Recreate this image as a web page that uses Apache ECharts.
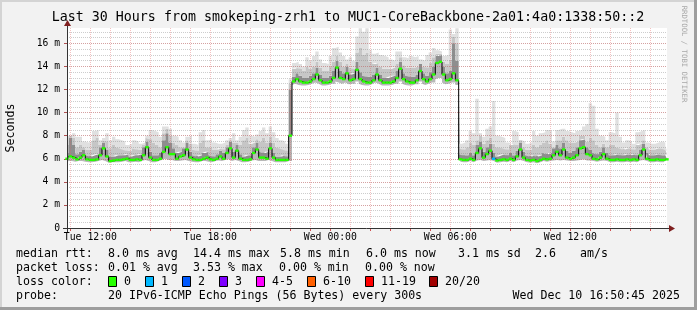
<!DOCTYPE html>
<html><head><meta charset="utf-8">
<script src="https://cdn.jsdelivr.net/npm/echarts@6/dist/echarts.min.js"></script>
<style>html,body{margin:0;padding:0;background:#f2f2f2}#c{width:697px;height:310px}</style>
</head><body><div id="c"></div>
<script>
// ---- data (ms), one value per 10-minute step from Tue 10:50 to Wed 16:50 ----
const med = [
6.0,6.2,6.1,5.95,6.1,6.3,5.95,5.9,5.9,5.95,
6.3,6.9,6.2,5.8,5.85,5.9,5.9,5.95,6.0,5.9,
5.9,5.95,5.9,6.3,7.0,6.1,5.9,5.9,6.0,6.6,
7.0,6.4,6.4,6.0,6.2,6.3,6.8,6.1,5.95,5.9,
5.9,6.0,6.1,5.95,5.9,6.0,6.2,6.0,6.5,6.9,
6.1,6.7,6.0,5.9,5.9,5.95,6.5,6.8,6.1,6.1,
6.0,6.9,6.1,5.9,5.9,5.9,5.9,8.0,12.7,12.9,
12.7,12.6,12.6,12.7,12.9,13.3,12.8,12.6,12.6,12.7,
13.0,13.9,13.0,12.9,13.4,12.8,12.9,13.7,12.9,12.7,
12.6,12.6,12.8,13.3,12.8,12.6,12.6,12.6,12.7,13.0,
13.8,12.9,12.7,12.6,12.6,12.8,13.6,12.9,12.7,12.9,
13.3,14.3,14.4,13.3,12.8,12.9,13.4,12.8,5.95,5.9,
5.9,6.0,5.9,6.5,6.9,6.1,6.4,6.7,6.0,5.85,
5.9,5.95,5.9,6.0,5.9,6.2,6.8,6.1,5.9,5.85,
5.9,5.8,5.9,6.0,5.95,6.0,6.3,6.6,6.3,6.8,
6.1,6.0,6.1,6.3,6.9,7.0,6.4,6.3,6.0,5.95,
6.1,6.4,6.0,5.9,5.9,5.95,5.9,5.9,5.95,5.9,
5.95,5.9,6.3,6.8,6.0,5.9,5.9,5.95,5.9,5.9,5.95];
const lo = [
5.75,5.8,5.8,5.75,5.8,5.8,5.75,5.7,5.7,5.75,
5.8,5.9,5.8,5.65,5.7,5.7,5.7,5.75,5.8,5.7,
5.7,5.75,5.7,5.8,5.9,5.8,5.7,5.7,5.8,5.9,
6.0,5.9,5.9,5.8,5.8,5.85,5.9,5.8,5.75,5.7,
5.7,5.8,5.8,5.75,5.7,5.8,5.85,5.8,5.9,5.95,
5.8,5.9,5.8,5.7,5.7,5.75,5.85,5.9,5.8,5.8,
5.8,5.9,5.8,5.7,5.7,5.7,5.7,5.8,12.4,12.5,
12.4,12.35,12.35,12.4,12.5,12.6,12.5,12.35,12.35,12.4,
12.5,12.7,12.6,12.5,12.6,12.45,12.5,12.7,12.5,12.4,
12.35,12.35,12.45,12.6,12.5,12.35,12.35,12.35,12.4,12.5,
12.7,12.5,12.4,12.35,12.35,12.45,12.7,12.5,12.4,12.5,
12.6,12.9,13.0,12.6,12.45,12.5,12.6,12.4,5.75,5.7,
5.7,5.8,5.7,5.85,5.9,5.8,5.85,5.9,5.8,5.65,
5.7,5.75,5.7,5.8,5.7,5.85,5.9,5.8,5.7,5.65,
5.7,5.6,5.7,5.8,5.75,5.8,5.85,5.9,5.85,5.9,
5.85,5.8,5.8,5.85,5.9,5.95,5.85,5.85,5.8,5.75,
5.8,5.85,5.8,5.7,5.7,5.75,5.7,5.7,5.75,5.7,
5.75,5.7,5.85,5.9,5.8,5.7,5.7,5.75,5.7,5.7,5.75];
const dark = [
6.5,7.8,7.2,6.4,6.6,6.8,6.3,6.2,6.3,6.4,
7.0,7.4,6.8,6.2,6.2,6.3,6.3,6.3,6.4,6.2,
6.3,6.3,6.4,7.0,7.5,6.6,6.3,6.3,6.5,7.6,
8.2,7.4,6.9,6.5,6.6,6.9,7.4,6.6,6.3,6.2,
6.3,6.5,6.6,6.3,6.2,6.4,6.7,6.5,7.0,7.5,
6.6,7.2,6.4,6.2,6.3,6.3,7.0,7.4,6.6,6.5,
6.6,7.4,6.5,6.2,6.2,6.3,6.2,12.0,13.1,13.4,
13.2,13.0,13.0,13.2,13.4,13.9,13.3,13.0,13.0,13.2,
13.6,14.5,13.6,13.4,14.0,13.3,13.4,14.4,13.5,13.2,
13.1,13.1,13.3,13.9,13.3,13.0,13.0,13.1,13.2,13.6,
14.4,13.4,13.2,13.1,13.1,13.3,14.2,13.4,13.2,13.5,
14.0,14.9,15.0,14.0,13.4,13.6,16.0,14.5,6.4,6.3,
6.3,6.5,6.3,7.2,7.5,6.6,7.0,7.3,6.5,6.2,
6.3,6.4,6.3,6.5,6.3,6.7,7.4,6.6,6.3,6.2,
6.3,6.2,6.3,6.5,6.4,6.5,6.9,7.2,6.9,7.4,
6.7,6.5,6.7,7.0,7.6,7.7,7.0,6.8,6.5,6.4,
6.6,7.0,6.5,6.3,6.3,6.4,6.3,6.3,6.4,6.3,
6.4,6.3,6.8,7.3,6.5,6.3,6.3,6.4,6.3,6.3,6.4];
const grey = [
7.2,8.0,7.8,7.0,7.2,7.0,6.8,6.8,7.6,7.8,
7.2,7.6,7.5,6.9,7.2,7.0,6.9,6.8,6.7,6.7,
6.9,6.8,6.8,7.2,7.8,7.7,7.4,7.2,7.0,8.2,
8.6,8.0,7.4,7.2,7.0,7.0,7.6,7.3,6.8,6.7,
7.4,7.6,7.0,7.0,6.8,6.8,6.9,6.8,7.2,7.6,
7.4,7.4,7.2,7.6,7.8,7.3,7.4,7.7,7.5,7.8,
7.4,7.9,7.4,7.0,6.9,6.8,6.7,12.5,13.8,13.9,
13.8,13.6,14.0,13.8,14.0,14.4,13.9,13.6,13.6,14.0,
14.4,14.9,14.4,14.0,14.2,13.9,13.8,15.2,15.6,15.0,
15.2,14.4,14.2,14.3,14.0,13.8,13.8,13.8,13.9,14.2,
14.8,14.1,13.9,13.9,13.9,14.0,14.2,14.0,13.9,14.3,
14.8,15.1,15.1,14.4,14.2,14.6,16.6,16.0,6.9,6.8,
7.0,7.4,7.2,7.6,8.0,7.3,7.6,7.8,7.3,7.0,
7.0,6.9,6.8,7.2,7.3,7.2,7.6,7.0,6.8,6.8,
7.2,7.0,7.2,7.4,7.6,7.3,7.0,7.6,7.6,7.9,
7.6,7.4,7.4,7.5,8.0,8.0,7.5,7.8,7.6,7.2,
7.0,7.3,7.0,7.2,7.2,7.0,6.9,6.8,6.9,6.9,
6.8,7.2,7.3,7.6,7.0,6.8,6.8,6.9,6.9,6.8,6.7];
const hi = [
7.8,8.0,8.2,7.9,7.9,7.5,7.4,7.5,8.4,8.5,
7.6,7.8,8.2,7.6,7.9,7.7,7.6,7.5,7.2,7.3,
7.6,7.5,7.3,7.4,8.0,8.5,8.4,8.3,7.9,8.8,
8.8,8.6,8.0,7.9,7.6,7.4,7.9,8.0,7.3,7.2,
8.3,8.5,7.6,7.7,7.4,7.3,7.3,7.4,7.6,7.8,
8.2,7.6,7.9,8.5,8.7,8.0,7.9,8.1,8.4,8.7,
8.2,8.8,8.3,7.8,7.6,7.5,7.3,12.9,14.3,14.4,
14.2,14.0,14.8,14.5,14.9,15.3,14.6,14.3,14.2,14.9,
15.6,15.7,15.2,14.9,14.6,14.8,14.5,16.6,17.3,17.0,
17.3,15.4,15.1,15.2,15.0,14.9,14.8,14.6,14.5,15.3,
15.3,14.8,14.7,14.9,14.8,14.9,14.6,14.5,15.0,15.2,
15.6,15.4,15.3,14.9,15.0,17.2,16.8,17.3,7.3,7.4,
7.6,8.4,8.2,11.2,8.2,7.9,8.6,8.8,11.0,8.0,
7.9,7.8,7.4,7.3,8.4,8.3,7.6,7.5,7.3,7.4,
8.4,8.0,8.2,8.3,8.5,8.4,7.5,8.5,8.6,8.6,
8.4,8.3,8.2,8.4,8.5,8.8,9.0,10.8,10.6,8.6,
8.0,7.9,7.6,8.3,8.2,10.0,7.9,7.4,7.6,7.5,
7.3,8.3,8.4,8.5,7.4,7.3,7.3,7.4,7.5,7.4,7.1];
// steps with packet loss: [step index, lost pings]
const lossSteps = [[128, 1]];
const lossBins = ['0','1','2','3','4-5','6-10','11-19','20/20'];
const lossColors = ['#26ff00','#00b8ff','#0059ff','#7e00ff','#ff00ff','#ff6000','#ff0000','#a10000'];
const yTicks = [0,2,4,6,8,10,12,14,16];

// ---- categories (10-minute slots) ----
const categories = [];
for (let i = 0; i < med.length; i++) {
  const m = 10 * 60 + 50 + 10 * i;
  const day = m >= 1440 ? 'Wed' : 'Tue';
  const hh = Math.floor((m % 1440) / 60), mm = m % 60;
  categories.push(day + ' ' + String(hh).padStart(2, '0') + ':' + String(mm).padStart(2, '0'));
}
const isHour = (i, v) => v.endsWith(':00');
const isLabel = (i, v) => /(00|06|12|18):00$/.test(v);

function lossIndex(n) {
  if (n <= 0) return 0; if (n === 1) return 1; if (n === 2) return 2; if (n === 3) return 3;
  if (n <= 5) return 4; if (n <= 10) return 5; if (n < 20) return 6; return 7;
}
const lossAt = {};
lossSteps.forEach(([i, n]) => lossAt[i] = n);

const diff = (a, b) => a.map((v, i) => Math.max(0, v - b[i]));
const FONT = '"DejaVu Sans Mono", monospace';
const GL = 67, GT = 28, GW = 600, GH = 200;
const YMAX = 17.33;

function band(data, color) {
  return { type: 'line', stack: 'smoke', data, step: 'middle', symbol: 'none', silent: true,
    lineStyle: { opacity: 0, width: 0 }, areaStyle: color ? { color, opacity: 1 } : undefined,
    z: 1, animation: false };
}

const series = [
  band(lo, null),
  band(diff(med, lo), '#b8b8b8'),
  band(diff(dark, med), '#8e8e8e'),
  band(diff(grey, dark), '#c6c6c6'),
  band(diff(hi, grey), '#e0e0e0'),
  { type: 'line', data: med, step: 'middle', symbol: 'none', silent: true,
    lineStyle: { color: '#000', width: 1 }, z: 4, animation: false },
  { type: 'custom', silent: true, z: 5, animation: false,
    data: med.map((v, i) => [i, v, lossAt[i] || 0]),
    encode: { x: 0, y: 1 },
    renderItem: (params, api) => {
      const p = api.coord([api.value(0), api.value(1)]);
      const w = api.size([1, 0])[0];
      return { type: 'rect', shape: { x: p[0] - w / 2, y: p[1] - 1.2, width: w, height: 2.4 },
        style: { fill: lossColors[lossIndex(api.value(2))] } };
    } }
];

const txt = (x, y, s, extra) => ({ type: 'text', x, y, z: 20, silent: true,
  style: Object.assign({ text: s, font: '11.6px ' + FONT, fill: '#000',
    align: 'left', verticalAlign: 'middle', textAlign: 'left', textVerticalAlign: 'middle' }, extra || {}) });

const graphic = [
  // frame
  { type: 'rect', z: 20, silent: true, shape: { x: 0, y: 0, width: 697, height: 2 }, style: { fill: '#d4d4d4' } },
  { type: 'rect', z: 20, silent: true, shape: { x: 0, y: 0, width: 2, height: 310 }, style: { fill: '#d4d4d4' } },
  { type: 'rect', z: 20, silent: true, shape: { x: 694, y: 0, width: 3, height: 310 }, style: { fill: '#9e9e9e' } },
  { type: 'rect', z: 20, silent: true, shape: { x: 0, y: 307, width: 697, height: 3 }, style: { fill: '#9e9e9e' } },
  // axis lines and arrows
  { type: 'line', z: 20, silent: true, shape: { x1: GL + 0.5, y1: GT + GH + 4, x2: GL + 0.5, y2: GT - 3 }, style: { stroke: '#333', lineWidth: 1 } },
  { type: 'line', z: 20, silent: true, shape: { x1: GL - 4, y1: GT + GH + 0.5, x2: GL + GW + 3, y2: GT + GH + 0.5 }, style: { stroke: '#333', lineWidth: 1 } },
  { type: 'polygon', z: 21, silent: true, shape: { points: [[GL - 3, GT - 2], [GL + 4, GT - 2], [GL + 0.5, GT - 8]] }, style: { fill: '#7f1f1f' } },
  { type: 'polygon', z: 21, silent: true, shape: { points: [[GL + GW + 2, GT + GH - 3], [GL + GW + 2, GT + GH + 4], [GL + GW + 8, GT + GH + 0.5]] }, style: { fill: '#7f1f1f' } },
  // title and side texts
  txt(348, 17.5, 'Last 30 Hours from smokeping-zrh1 to MUC1-CoreBackbone-2a01:4a0:1338:50::2',
      { font: '13.3px ' + FONT, align: 'center', textAlign: 'center' }),
  Object.assign(txt(10.5, 128, 'Seconds', { align: 'center', textAlign: 'center' }), { rotation: Math.PI / 2 }),
  Object.assign(txt(684, 54, 'RRDTOOL / TOBI OETIKER', { font: '7.3px ' + FONT, fill: '#a8a8a8', align: 'center', textAlign: 'center' }), { rotation: -Math.PI / 2 }),
  // legend
  txt(16, 254, 'median rtt:'), txt(108, 254, '8.0 ms avg'), txt(193, 254, '14.4 ms max'),
  txt(280, 254, '5.8 ms min'), txt(366, 254, '6.0 ms now'), txt(458, 254, '3.1 ms sd'),
  txt(535, 254, '2.6'), txt(580, 254, 'am/s'),
  txt(16, 268, 'packet loss:'), txt(108, 268, '0.01 % avg'), txt(193, 268, '3.53 % max'),
  txt(279, 268, '0.00 % min'), txt(365, 268, '0.00 % now'),
  txt(16, 282, 'loss color:'),
  txt(16, 296, 'probe:'), txt(108, 296, '20 IPv6-ICMP Echo Pings (56 Bytes) every 300s'),
  txt(680, 296, 'Wed Dec 10 16:50:45 2025', { align: 'right', textAlign: 'right' })
];
const boxX = [108, 145, 182, 219, 256, 307, 365, 429];
lossBins.forEach((b, i) => {
  graphic.push({ type: 'rect', z: 20, silent: true, shape: { x: boxX[i] + 0.5, y: 276.5, width: 8, height: 10 },
    style: { fill: lossColors[i], stroke: '#000', lineWidth: 1 } });
  graphic.push(txt(boxX[i] + 16, 282, b));
});

const chart = echarts.init(document.getElementById('c'), null, { renderer: 'canvas', width: 697, height: 310 });
chart.setOption({
  backgroundColor: '#f2f2f2',
  animation: false,
  grid: { left: GL, top: GT, width: GW, height: GH, show: true, backgroundColor: '#ffffff', borderWidth: 0 },
  xAxis: [{
    type: 'category', data: categories, boundaryGap: false, z: 3,
    axisLine: { show: false },
    axisTick: { show: true, length: 3, interval: isHour, lineStyle: { color: '#d05050' } },
    axisLabel: { interval: isLabel, margin: 4, fontFamily: FONT, fontSize: 9.8, color: '#000' },
    splitLine: { show: true, interval: isHour, lineStyle: { color: 'rgba(225,90,90,0.38)', type: [1, 1], width: 1 } }
  }],
  yAxis: [{
    type: 'value', min: 0, max: YMAX, interval: 2, z: 3,
    axisLine: { show: false },
    axisTick: { show: true, length: 3, lineStyle: { color: '#b05050' } },
    axisLabel: { margin: 7, fontFamily: FONT, fontSize: 9.7, color: '#000', showMaxLabel: false,
      formatter: v => yTicks.indexOf(v) < 0 ? '' : (v === 0 ? '0' : v + ' m') },
    splitLine: { show: true, showMaxLine: false, showMinLine: false, lineStyle: { color: 'rgba(225,90,90,0.38)', type: [1, 1], width: 1 } }
  }, {
    type: 'value', min: 0, max: YMAX, interval: 0.5, z: 2,
    axisLine: { show: false }, axisTick: { show: false }, axisLabel: { show: false },
    splitLine: { show: true, showMaxLine: false, showMinLine: false, lineStyle: { color: 'rgba(130,130,130,0.4)', type: [1, 1], width: 1 } }
  }],
  series: series,
  graphic: graphic
});
</script></body></html>
